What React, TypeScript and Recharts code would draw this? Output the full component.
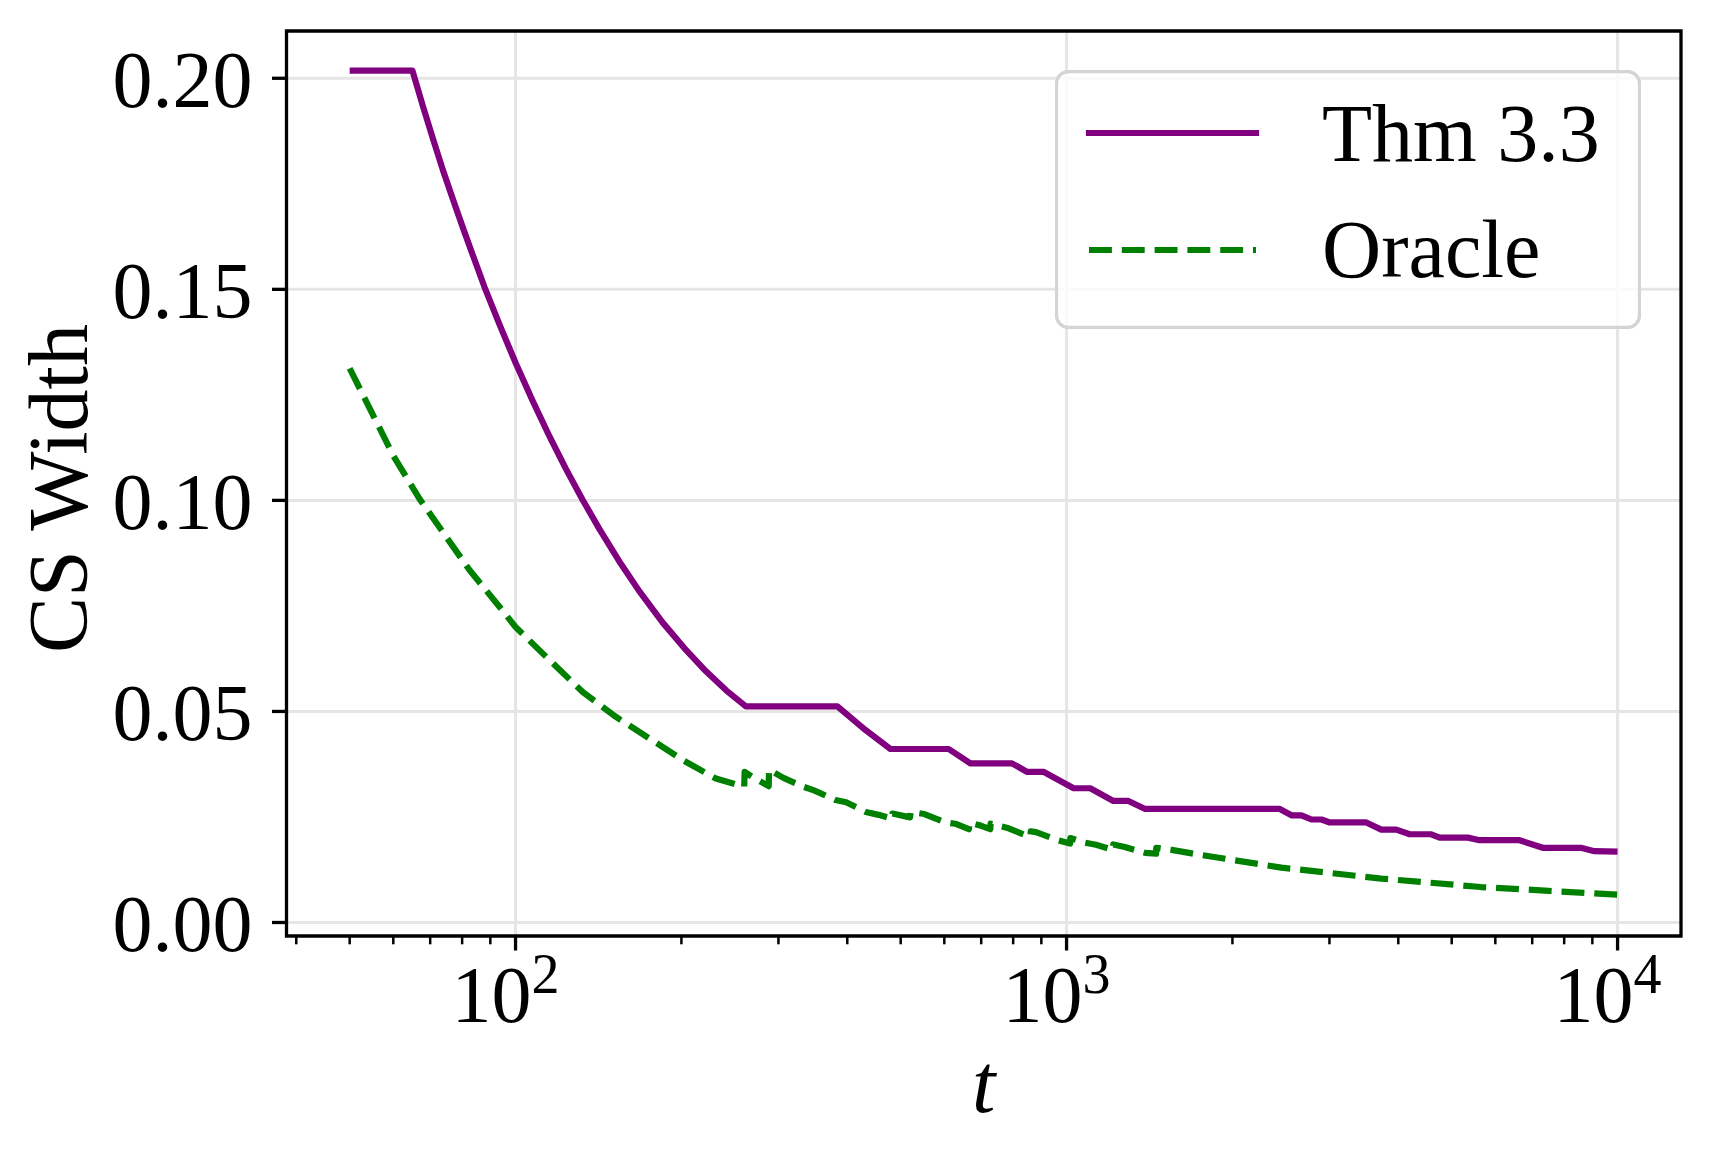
import React from "react";
import {
  LineChart, Line, XAxis, YAxis, CartesianGrid, Legend, ReferenceArea,
} from "recharts";

const FONT = "'Liberation Serif', 'DejaVu Serif', serif";

// Thm 3.3 confidence-sequence width
const THM_T = [50, 65, 67.9, 70.8, 73.8, 77.0, 80.3, 83.7, 87.8, 93.5, 100.1, 107.5, 115.2, 123.5, 132.4, 142.0, 154.2, 167.7, 184.8, 202.4, 221.6, 241.1, 261.8, 383.8, 431.7, 479, 611, 669, 796, 847, 908, 1030, 1104, 1216, 1295, 1389, 2438, 2559, 2669, 2783, 2901, 3004, 3499, 3726, 3966, 4195, 4590, 4754, 5350, 5617, 6637, 7313, 8581, 9075, 10000];
const THM_W = [0.2018, 0.2018, 0.1934, 0.1857, 0.1783, 0.1713, 0.1645, 0.1580, 0.1506, 0.1417, 0.1325, 0.1235, 0.1152, 0.1074, 0.1001, 0.0932, 0.0856, 0.0785, 0.0711, 0.0650, 0.0595, 0.0550, 0.0512, 0.0512, 0.0456, 0.0411, 0.0411, 0.0377, 0.0377, 0.0357, 0.0357, 0.0318, 0.0318, 0.0288, 0.0288, 0.0269, 0.0269, 0.0254, 0.0254, 0.0244, 0.0244, 0.0237, 0.0237, 0.0220, 0.0220, 0.0209, 0.0209, 0.0201, 0.0201, 0.0195, 0.0195, 0.0177, 0.0177, 0.0169, 0.0168];

// Oracle width
const ORACLE_T = [50, 60, 67, 82.5, 93.5, 100, 115.2, 132.4, 152.2, 175, 201, 231, 256, 260, 260.5, 269, 288, 288.5, 307, 334, 348, 381, 398, 432, 456, 482, 483, 520, 521, 552, 603, 628, 665, 666, 700, 727, 728, 785, 842, 860, 861, 880, 964, 1015, 1016, 1080, 1131, 1215, 1216, 1275, 1389, 1454, 1455, 1550, 1618, 1734, 2454, 3726, 5650, 7500, 10000];
const ORACLE_W = [0.1313, 0.1106, 0.1003, 0.0835, 0.0748, 0.0700, 0.0622, 0.0546, 0.0487, 0.0436, 0.0385, 0.0341, 0.0324, 0.0322, 0.0357, 0.0345, 0.0323, 0.0362, 0.0342, 0.0321, 0.0313, 0.0290, 0.0285, 0.0262, 0.0255, 0.0246, 0.0258, 0.0249, 0.0262, 0.0257, 0.0237, 0.0234, 0.0221, 0.0237, 0.0229, 0.0221, 0.0234, 0.0223, 0.0207, 0.0203, 0.0216, 0.0214, 0.0195, 0.0187, 0.0200, 0.0189, 0.0184, 0.0172, 0.0185, 0.0179, 0.0165, 0.0163, 0.0177, 0.0172, 0.0168, 0.0161, 0.0130, 0.0104, 0.0084, 0.0075, 0.0066];

const X_MIN = 38.4;
const X_MAX = 13035;
const Y_MIN = -0.0032;
const Y_MAX = 0.2112;
const Y_TICKS = [0, 0.05, 0.1, 0.15, 0.2];
const X_MAJOR = [100, 1000, 10000];
const X_TICKS = [40, 50, 60, 70, 80, 90, 100, 200, 300, 400, 500, 600, 700, 800, 900, 1000, 2000, 3000, 4000, 5000, 6000, 7000, 8000, 9000, 10000];

const SERIES = [
  { name: "Thm 3.3", color: "#800080", dash: undefined as string | undefined, cap: "square" },
  { name: "Oracle", color: "#008000", dash: "22.9 9.9", cap: "butt" },
];

const thmData = THM_T.map((t, i) => ({ t, w: THM_W[i] }));
const oracleData = ORACLE_T.map((t, i) => ({ t, w: ORACLE_W[i] }));

function LogTick(props: any) {
  const { x, y, payload } = props;
  const p = Math.log10(payload.value);
  const major = Math.abs(p - Math.round(p)) < 1e-6;
  return (
    <g>
      <line x1={x} x2={x} y1={y} y2={y + (major ? 14.5 : 8.3)} stroke="#000" strokeWidth={major ? 3.3 : 2.5} />
      {major && (
        <text x={x - 64} y={y + 86} fill="#000" fontSize={80} fontFamily={FONT}>
          10<tspan dy={-29} fontSize={56}>{Math.round(p)}</tspan>
        </text>
      )}
    </g>
  );
}

function LegendBox() {
  return (
    <svg width={586} height={259} style={{ display: "block" }}>
      <rect x={1.5} y={1.5} width={583} height={256} rx={12} ry={12}
        fill="#fff" fillOpacity={0.8} stroke="#d4d4d4" strokeWidth={3.3} />
      {SERIES.map((s, i) => (
        <g key={s.name}>
          <line x1={34} x2={201} y1={63 + i * 117} y2={63 + i * 117}
            stroke={s.color} strokeWidth={6.2} strokeDasharray={s.dash} strokeLinecap={s.cap as any} />
          <text x={267} y={91 + i * 116} fontSize={82} fontFamily={FONT} fill="#000">{s.name}</text>
        </g>
      ))}
    </svg>
  );
}

export default function App() {
  return (
    <div style={{ position: "absolute", left: 0, top: 0, width: 1711, height: 1159, background: "#fff" }}>
      <LineChart width={1711} height={1159} margin={{ top: 31, right: 30, bottom: 0, left: 0 }}>
        <CartesianGrid stroke="#e5e5e5" strokeWidth={3} verticalValues={X_MAJOR} horizontalValues={Y_TICKS} />
        <XAxis
          dataKey="t"
          type="number"
          scale="log"
          domain={[X_MIN, X_MAX]}
          allowDataOverflow
          ticks={X_TICKS}
          interval={0}
          tick={<LogTick />}
          tickLine={false}
          tickSize={0}
          tickMargin={0}
          axisLine={false}
          height={223}
          label={{ value: "t", position: "insideBottom", offset: 47, fill: "#000", fontSize: 84, fontStyle: "italic", fontFamily: FONT }}
        />
        <YAxis
          type="number"
          domain={[Y_MIN, Y_MAX]}
          allowDataOverflow
          ticks={Y_TICKS}
          interval={0}
          width={286.5}
          tickSize={14.5}
          tickMargin={19.5}
          tickLine={{ stroke: "#000", strokeWidth: 3.3 }}
          axisLine={false}
          tickFormatter={(v: number) => v.toFixed(2)}
          tick={{ fill: "#000", fontSize: 80, fontFamily: FONT }}
          label={{ value: "CS Width", angle: -90, position: "center", dx: -86, dy: 5, fill: "#000", fontSize: 84, fontFamily: FONT }}
        />
        <ReferenceArea x1={X_MIN} x2={X_MAX} y1={Y_MIN} y2={Y_MAX} fill="none" stroke="#000" strokeWidth={3.3} fillOpacity={0} />
        <Line data={thmData} dataKey="w" name={SERIES[0].name} type="linear" stroke={SERIES[0].color}
          strokeWidth={6.2} dot={false} activeDot={false} strokeLinejoin="round" isAnimationActive={false} />
        <Line data={oracleData} dataKey="w" name={SERIES[1].name} type="linear" stroke={SERIES[1].color}
          strokeWidth={6.2} strokeDasharray={SERIES[1].dash} dot={false} activeDot={false} strokeLinejoin="round" isAnimationActive={false} />
        <Legend layout="vertical" align="center" verticalAlign="middle"
          wrapperStyle={{ left: 1054.5, top: 69.5, width: 586, height: 259 }}
          content={() => <LegendBox />} />
      </LineChart>
    </div>
  );
}
